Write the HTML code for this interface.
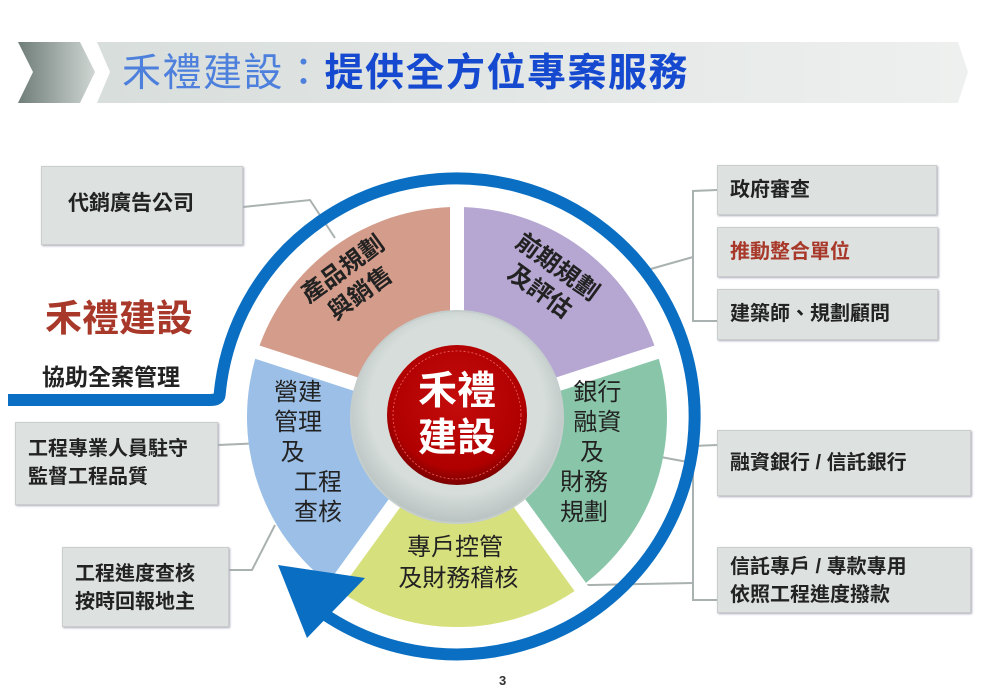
<!DOCTYPE html>
<html><head><meta charset="utf-8"><style>
body{margin:0;width:1000px;height:699px;background:#fff;overflow:hidden;position:relative;font-family:"Liberation Sans","Noto Sans CJK TC",sans-serif}
.box{position:absolute;background:#dde2e0;border:1px solid #c9cecc;box-shadow:1px 1px 2px #aab;box-sizing:border-box;color:#222;font-size:20px;font-weight:bold;line-height:28px}
.t{position:absolute;white-space:nowrap}
</style></head><body>
<svg width="1000" height="699" style="position:absolute;left:0;top:0">
<defs>
<linearGradient id="dk" x1="0" x2="1"><stop offset="0" stop-color="#6f7d78"/><stop offset="1" stop-color="#cfd6d3"/></linearGradient>
<linearGradient id="lt" x1="0" x2="1"><stop offset="0" stop-color="#d8dedc"/><stop offset="1" stop-color="#eef0ef"/></linearGradient>
<radialGradient id="gr" cx="0.5" cy="0.45" r="0.55"><stop offset="0.75" stop-color="#d6dddb"/><stop offset="1" stop-color="#b8c2c0"/></radialGradient>
<radialGradient id="rd" cx="0.5" cy="0.4" r="0.6"><stop offset="0" stop-color="#c40c0c"/><stop offset="0.8" stop-color="#b00000"/><stop offset="1" stop-color="#7a0000"/></radialGradient>
</defs>
<polygon points="18,42 80,42 95,72 80,103 18,103 33,72" fill="url(#dk)"/>
<polygon points="97,42 958,42 968,72 958,103 97,103 110,72" fill="url(#lt)"/>
<g stroke="#a9b2b0" stroke-width="2" fill="none">
<polyline points="243,207 310,200 335,238"/>
<polyline points="218,445 262,443"/>
<polyline points="229,570 252,570 275,525"/>
<polyline points="717,190 693,191 693,321 717,321"/>
<polyline points="640,272 693,257"/>
<polyline points="717,445 693,446 693,600 717,600"/>
<polyline points="650,455 693,463"/>
<polyline points="540,586 693,583"/>
</g>
<path d="M457 417 L257.3 352.1 A210 210 0 0 1 457 207 Z" fill="#d49d8b"/>
<path d="M457 417 L457 207 A210 210 0 0 1 656.7 352.1 Z" fill="#b6a7d2"/>
<path d="M457 417 L656.7 352.1 A210 210 0 0 1 580.5 586.9 Z" fill="#89c6a9"/>
<path d="M457 417 L580.5 586.9 A210 210 0 0 1 333.5 586.9 Z" fill="#d6e07c"/>
<path d="M457 417 L333.5 586.9 A210 210 0 0 1 257.3 352.1 Z" fill="#9bbfe6"/>
<g stroke="#fff" stroke-width="14">
<line x1="457" y1="417" x2="457" y2="195"/>
<line x1="457" y1="417" x2="671" y2="347.5"/>
<line x1="457" y1="417" x2="589" y2="599"/>
<line x1="457" y1="417" x2="325" y2="599"/>
<line x1="457" y1="417" x2="243" y2="347.5"/>
</g>
<path d="M8 400 L210 400 Q219 400 219.6 395 A238 238 0 1 1 324 614" stroke="#0a6fc2" stroke-width="12" fill="none"/>
<polygon points="278,565 307,638 365,578" fill="#0a6fc2"/>
<circle cx="457" cy="417" r="106" fill="url(#gr)" stroke="#c5cecc" stroke-width="2"/>
<circle cx="457" cy="415" r="70" fill="url(#rd)"/>
<circle cx="457" cy="415" r="64" fill="none" stroke="#e66" stroke-width="0.8" stroke-dasharray="2,2"/>
</svg>
<div class="t" style="left:122px;top:50px;font-size:39px;line-height:48px;color:#4d80dc;letter-spacing:1.5px">禾禮建設：<b style="color:#1449d0">提供全方位專案服務</b></div>
<div class="t" style="left:45px;top:296px;font-size:37px;color:#a8392a;line-height:46px;font-weight:bold">禾禮建設</div>
<div class="t" style="left:42px;top:362px;font-size:23px;color:#222;line-height:30px;font-weight:bold">協助全案管理</div>

<div class="box" style="left:41px;top:166px;width:202px;height:79px;padding:23px 0 0 26px;font-size:21px">代銷廣告公司</div>
<div class="box" style="left:15px;top:422px;width:203px;height:83px;padding:12px 0 0 12px">工程專業人員駐守<br>監督工程品質</div>
<div class="box" style="left:62px;top:547px;width:167px;height:80px;padding:12px 0 0 12px">工程進度查核<br>按時回報地主</div>
<div class="box" style="left:717px;top:165px;width:220px;height:50px;padding:10px 0 0 12px">政府審查</div>
<div class="box" style="left:717px;top:227px;width:221px;height:50px;padding:10px 0 0 12px;color:#a8392a">推動整合單位</div>
<div class="box" style="left:717px;top:289px;width:221px;height:51px;padding:10px 0 0 12px">建築師、規劃顧問</div>
<div class="box" style="left:717px;top:430px;width:254px;height:66px;padding:18px 0 0 12px">融資銀行 / 信託銀行</div>
<div class="box" style="left:717px;top:547px;width:254px;height:66px;padding:5px 0 0 12px">信託專戶 / 專款專用<br>依照工程進度撥款</div>

<div class="t" style="left:352px;top:282px;transform:translate(-50%,-50%) rotate(-36deg);font-size:24px;font-weight:bold;line-height:30px;text-align:center;color:#222">產品規劃<br>與銷售</div>
<div class="t" style="left:548px;top:280px;transform:translate(-50%,-50%) rotate(36deg);font-size:24px;font-weight:bold;line-height:30px;text-align:center;color:#222">前期規劃<br>及評估</div>
<div class="t" style="left:274px;top:378px;font-size:24px;line-height:30px;color:#222">營建<br>管理<br>&nbsp;及<br>&nbsp;&nbsp;&nbsp;工程<br>&nbsp;&nbsp;&nbsp;查核</div>
<div class="t" style="left:560px;top:378px;font-size:24px;line-height:30px;color:#222">&nbsp;&nbsp;銀行<br>&nbsp;&nbsp;融資<br>&nbsp;&nbsp;&nbsp;及<br>財務<br>規劃</div>
<div class="t" style="left:455px;top:532px;transform:translateX(-50%);font-size:24px;line-height:31px;text-align:center;color:#222">專戶控管<br>&nbsp;及財務稽核</div>
<div class="t" style="left:457px;top:368px;transform:translateX(-50%);font-size:39px;line-height:47px;color:#fff;font-weight:bold;text-align:center">禾禮<br>建設</div>
<div class="t" style="left:499px;top:673px;font-size:13px;font-weight:bold;color:#333">3</div>
</body></html>
